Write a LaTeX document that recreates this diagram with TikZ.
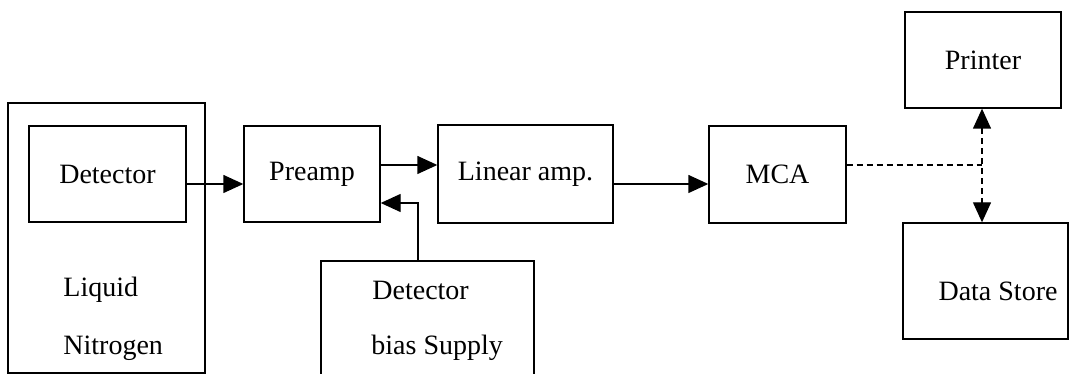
\documentclass[tikz,border=0pt]{standalone}
\usepackage{fontspec}
\setmainfont{Liberation Serif}
\usepackage{tikz}
\usetikzlibrary{arrows.meta,positioning}

\begin{document}
\begin{tikzpicture}[x=0.5pt,y=0.5pt,
  box/.style={draw,line width=0.7pt,inner sep=0pt,font=\fontsize{14}{17}\selectfont},
  txt/.style={inner sep=0pt,font=\fontsize{14}{17}\selectfont},
  arr/.style={line width=0.7pt,-{Triangle[length=10pt,width=9pt]}},
  dsh/.style={line width=0.7pt,dash pattern=on 3pt off 2pt}]
\useasboundingbox(0,0)rectangle(1070,374);
% boxes
\node[box,minimum width=98.5pt,minimum height=135pt](ln)at(106.5,136){};
\node[box,minimum width=78.5pt,minimum height=48pt](det)at(107.5,200){Detector};
\node[box,minimum width=68pt,minimum height=48pt](pre)at(312,200){Preamp};
\node[box,minimum width=87.5pt,minimum height=49pt](lin)at(525.5,200){Linear amp.};
\node[box,minimum width=68.5pt,minimum height=48.5pt](mca)at(777.5,199.5){MCA};
\node[box,minimum width=78pt,minimum height=48pt](prt)at(983,314){Printer};
\node[box,minimum width=82.5pt,minimum height=58pt](ds)at(985.5,93){};
\node[box,minimum width=106.5pt,minimum height=57.5pt](bias)at(427.5,55.5){};
% labels
\node[txt,anchor=west](liq)at(63,84){Liquid};
\node[txt,anchor=west](nit)at(63,26){Nitrogen};
\node[txt,anchor=west](bdet)at(372,84){Detector};
\node[txt,anchor=west](bsup)at(371,26){bias Supply};
\node[txt](dstxt)at(998,83){Data Store};
% signal path
\draw[arr]([yshift=-5pt]det.east)--([yshift=-5pt]pre.west);
\draw[arr]([yshift=4.5pt]pre.east)--([yshift=4.5pt]lin.west);
\draw[arr]([yshift=-5pt]lin.east)--([yshift=-4.75pt]mca.west);
\draw[arr]([xshift=-4.75pt]bias.north)|-([yshift=-14.5pt]pre.east);
% output
\coordinate(tap)at(982,209);
\draw[dsh]([yshift=4.75pt]mca.east)--(tap);
\draw[dsh,{Triangle[length=10pt,width=9pt]}-{Triangle[length=10pt,width=9pt]}]
  (tap|-prt.south)--(tap|-ds.north);
\end{tikzpicture}
\end{document}
